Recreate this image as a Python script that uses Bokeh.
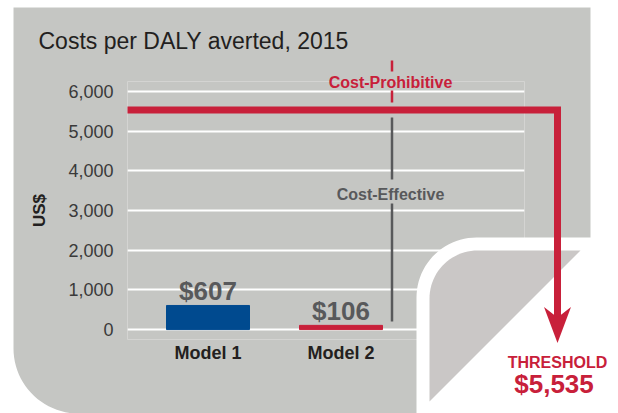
import numpy as np
from bokeh.plotting import figure
from bokeh.models import Range1d, FixedTicker, NumeralTickFormatter, ColumnDataSource
from bokeh.core.properties import value
from bokeh.embed import file_html
from bokeh.resources import INLINE

# ---------------- data ----------------
categories = ["Model 1", "Model 2"]
costs = [607, 106]
cost_labels = ["$607", "$106"]
bar_colors = ["#004a8f", "#c8203a"]
threshold = 5535
threshold_title = "THRESHOLD"
threshold_label = "$5,535"
y_ticks = [0, 1000, 2000, 3000, 4000, 5000, 6000]
title_text = "Costs per DALY averted, 2015"
y_title = "US$"
zone_above = "Cost-Prohibitive"
zone_below = "Cost-Effective"

# ---------------- layout / style ----------------
FONT = "Liberation Sans"
GRAY = "#c5c6c3"
PAGE = "#cac7c6"
RED = "#c8203a"
DARK = "#231f20"
MID = "#58595b"

W, H = 618, 413
FL, FR, FT, FB = 127, 94, 81, 74
FW = W - FL - FR
FH = H - FT - FB
PX_PER_CAT = 133
XS = 1 - 80.5 / PX_PER_CAT
XE = XS + FW / PX_PER_CAT
YS, YE = -250, 6250


def dx(rx):
    return XS + (rx - FL) / PX_PER_CAT


def dy(ry):
    return YE - (ry - FT) * (YE - YS) / FH


def pts(points):
    return [dx(a) for a, b in points], [dy(b) for a, b in points]


def arc(cx, cy, r, t0, t1, n=24):
    t = np.linspace(t0, t1, n)
    return list(zip(cx + r * np.cos(t), cy + r * np.sin(t)))


x_pos = list(range(1, len(categories) + 1))

p = figure(width=W, height=H, x_range=Range1d(XS, XE), y_range=Range1d(YS, YE),
           output_backend="svg", toolbar_location=None,
           min_border_left=FL, min_border_right=FR, min_border_top=FT, min_border_bottom=FB)
p.background_fill_color = GRAY
p.border_fill_color = GRAY
p.outline_line_color = None

# axes
p.xaxis.ticker = FixedTicker(ticks=x_pos)
p.xaxis.major_label_overrides = {x: c for x, c in zip(x_pos, categories)}
p.xaxis.axis_line_color = None
p.xaxis.major_tick_line_color = None
p.xaxis.minor_tick_line_color = None
p.xaxis.major_tick_out = 0
p.xaxis.major_label_standoff = 3
p.xaxis.major_label_text_font = FONT
p.xaxis.major_label_text_font_size = "18px"
p.xaxis.major_label_text_font_style = "bold"
p.xaxis.major_label_text_color = DARK

p.yaxis.ticker = FixedTicker(ticks=y_ticks)
p.yaxis.formatter = NumeralTickFormatter(format="0,0")
p.yaxis.axis_line_color = None
p.yaxis.major_tick_line_color = None
p.yaxis.minor_tick_line_color = None
p.yaxis.major_tick_out = 0
p.yaxis.major_label_standoff = 14
p.yaxis.major_label_text_font = FONT
p.yaxis.major_label_text_font_size = "18px"
p.yaxis.major_label_text_color = "#3a3a3a"
p.yaxis.axis_label = y_title
p.yaxis.axis_label_text_font = FONT
p.yaxis.axis_label_text_font_size = "17px"
p.yaxis.axis_label_text_font_style = "bold"
p.yaxis.axis_label_text_color = DARK
p.yaxis.axis_label_standoff = 16

p.xgrid.grid_line_color = None
p.ygrid.ticker = FixedTicker(ticks=y_ticks)
p.ygrid.grid_line_color = "white"
p.ygrid.grid_line_width = 2

# bars
src = ColumnDataSource(dict(x=x_pos, top=costs, color=bar_colors, label=cost_labels))
p.vbar(x="x", top="top", bottom=0, width=83 / PX_PER_CAT, color="color", source=src)
p.text(x="x", y="top", text="label", source=src, text_align="center", text_baseline="alphabetic",
       y_offset=-14, text_font=value(FONT), text_font_style="bold", text_font_size="26px",
       text_color=MID)

# white cut-outs (page shape)
top_strip = [(-10, -10), (630, -10), (630, 7), (-10, 7)]
xs, ys = pts(top_strip)
p.patch(xs, ys, fill_color="white", line_color=None, level="annotation")

r1 = 60
white_br = [(590, -10), (630, -10), (630, 425), (416, 425)] + \
    arc(416 + r1, 237 + r1, r1, np.pi, 1.5 * np.pi) + [(590, 237)]
xs, ys = pts(white_br)
p.patch(xs, ys, fill_color="white", line_color=None, level="annotation")

r0 = 65
white_bl = [(-10, -10), (13, -10)] + arc(13 + r0, 348, r0, np.pi, 0.5 * np.pi) + \
    [(13 + r0, 425), (-10, 425)]
xs, ys = pts(white_bl)
p.patch(xs, ys, fill_color="white", line_color=None, level="annotation")

r2 = 48
page = [(429, 401)] + arc(429 + r2, 250 + r2, r2, np.pi, 1.5 * np.pi) + [(580, 250)]
xs, ys = pts(page)
p.patch(xs, ys, fill_color=PAGE, line_color=None, level="annotation")

# dividers
DIV_X = dx(391.5)
p.segment(x0=[DIV_X, DIV_X], y0=[dy(60), dy(90)], x1=[DIV_X, DIV_X], y1=[dy(71), dy(102)],
          line_color=RED, line_width=2.5, level="overlay")
p.segment(x0=[DIV_X, DIV_X], y0=[dy(117), dy(203)], x1=[DIV_X, DIV_X], y1=[dy(179), dy(321)],
          line_color=MID, line_width=2.5, level="overlay")

# threshold line and arrow
ARROW_X = dx(557)
p.line(x=[XS, ARROW_X, ARROW_X], y=[threshold, threshold, dy(320)], line_color=RED,
       line_width=7, line_join="miter", line_cap="butt", level="overlay")
head = [(557, 342.5), (543.5, 306.5), (557, 317), (570.5, 306.5)]
xs, ys = pts(head)
p.patch(xs, ys, fill_color=RED, line_color=None, level="overlay")


def add_text(x, y, text, size, color, style="normal", align="center"):
    p.text(x=[x], y=[y], text=[text], text_font=value(FONT), text_font_size=size,
           text_color=color, text_font_style=style, text_align=align,
           text_baseline="alphabetic", level="overlay")


add_text(dx(38), dy(40.4), title_text, "23px", DARK, align="left")
add_text(dx(390), dy(81.5), zone_above, "16px", RED, "bold")
add_text(dx(390), dy(193.5), zone_below, "16px", MID, "bold")
add_text(dx(557), dy(361.5), threshold_title, "16px", RED, "bold")
add_text(dx(553.5), dy(383.7), threshold_label, "26px", RED, "bold")

open("out.html", "w").write(file_html(p, INLINE))
